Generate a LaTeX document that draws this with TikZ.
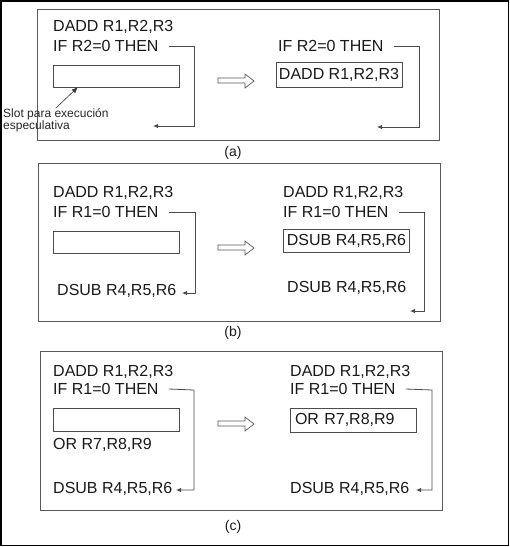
\documentclass[tikz,border=0pt]{standalone}
\usepackage{fontspec}
\setmainfont{Liberation Sans}
\usetikzlibrary{arrows.meta}

\tikzset{
  instr/.style={anchor=west, inner sep=0pt, text=black!90,
    font=\fontsize{16}{18}\selectfont},
  slotbox/.style={draw=black!70, inner sep=0pt, minimum width=126pt,
    minimum height=23pt, text=black!90, font=\fontsize{16}{18}\selectfont},
  panel/.style={draw=black!65, line width=0.8pt},
  branch/.style={draw=black!70, line width=0.8pt,
    -{Latex[length=5pt,width=4.5pt]}},
  caption/.style={inner sep=0pt, text=black!90, font=\fontsize{14}{16}\selectfont},
  hollow/.style={draw=black!65, line width=0.7pt, fill=white},
}

\begin{document}
\begin{tikzpicture}[x=1pt,y=-1pt]
          \useasboundingbox (0,0) rectangle (510,547);
          \draw[black, line width=1.5pt] (0.75,0.75) rectangle (508.5,545.5);

          % panel (a)
          \draw[panel] (37,9) rectangle (439,140);
          \node[caption] (capA) at (233,153) {(a)};

          \node[instr] (daddA) at (53,27) {DADD R1,R2,R3};
          \node[instr] (ifA) at (53,46) {IF R2=0 THEN};
          \node[slotbox, minimum height=22pt] (slotA) at (116,76) {};
          \coordinate (turnA) at (194,46);
          \coordinate (endA) at (153,126);
          \draw[branch] ([xshift=10pt]ifA.east) -- (turnA) |- (endA);

          \node[anchor=north west, inner sep=0pt, align=left, text=black!85,
            font=\fontsize{12}{12.5}\selectfont] (note) at (3,108)
            {Slot para execución\\especulativa};
          \draw[black!80, line width=0.6pt, -{Latex[length=6pt,width=5pt]}]
            (note.north) -- ([xshift=25pt]slotA.south west);

          \draw[hollow] (218,78) -- (245,78) -- (245,74) -- (254,81)
            -- (245,88) -- (245,83) -- (218,83) -- cycle;

          \node[instr] (ifAr) at (278,46) {IF R2=0 THEN};
          \node[slotbox, minimum height=25pt] (slotAr) at (339,74.5) {DADD R1,R2,R3};
          \coordinate (turnAr) at (419,46);
          \coordinate (endAr) at (377,127);
          \draw[branch] ([xshift=10pt]ifAr.east) -- (turnAr) |- (endAr);

          % panel (b)
          \draw[panel] (38,163) rectangle (440,321);
          \node[caption] (capB) at (233,333) {(b)};

          \node[instr] (daddB) at (53,193) {DADD R1,R2,R3};
          \node[instr] (ifB) at (53,212) {IF R1=0 THEN};
          \node[slotbox, minimum height=22pt] (slotB) at (116.5,242) {};
          \node[instr] (dsubB) at (57,291) {DSUB R4,R5,R6};
          \coordinate (turnB) at (195,212);
          \coordinate (endB) at (182,293);
          \draw[branch] ([xshift=10pt]ifB.east) -- (turnB) |- (endB);

          \draw[hollow] (218,245) -- (245,245) -- (245,241) -- (254,248)
            -- (245,255) -- (245,250) -- (218,250) -- cycle;

          \node[instr] (daddBr) at (283,193) {DADD R1,R2,R3};
          \node[instr] (ifBr) at (283,212) {IF R1=0 THEN};
          \node[slotbox] (slotBr) at (346.5,240.5) {DSUB R4,R5,R6};
          \node[instr] (dsubBr) at (287,288) {DSUB R4,R5,R6};
          \coordinate (turnBr) at (424,212);
          \coordinate (endBr) at (410,311);
          \draw[branch] ([xshift=10pt]ifBr.east) -- (turnBr) |- (endBr);

          % panel (c)
          \draw[panel] (40,351) rectangle (442,510);
          \node[caption] (capC) at (233,527) {(c)};

          \node[instr] (daddC) at (53,372) {DADD R1,R2,R3};
          \node[instr] (ifC) at (53,389) {IF R1=0 THEN};
          \node[slotbox] (slotC) at (116,419.5) {};
          \node[instr] (orC) at (53,445) {OR R7,R8,R9};
          \node[instr] (dsubC) at (53,489) {DSUB R4,R5,R6};
          \coordinate (turnC) at (194,390);
          \coordinate (endC) at (176,490);
          \draw[branch] ([xshift=10pt]ifC.east) -- (turnC) |- (endC);

          \draw[hollow] (218,421) -- (245,421) -- (245,417) -- (254,424)
            -- (245,431) -- (245,426) -- (218,426) -- cycle;

          \node[instr] (daddCr) at (290,372) {DADD R1,R2,R3};
          \node[instr] (ifCr) at (290,389) {IF R1=0 THEN};
          \node[slotbox, minimum height=24pt, text width=116pt, align=left]
            (slotCr) at (353,420) {OR R7,R8,R9};
          \node[instr] (dsubCr) at (290,489) {DSUB R4,R5,R6};
          \coordinate (turnCr) at (432,390);
          \coordinate (endCr) at (416,490);
          \draw[branch] ([xshift=10pt]ifCr.east) -- (turnCr) |- (endCr);

          \end{tikzpicture}
\end{document}
